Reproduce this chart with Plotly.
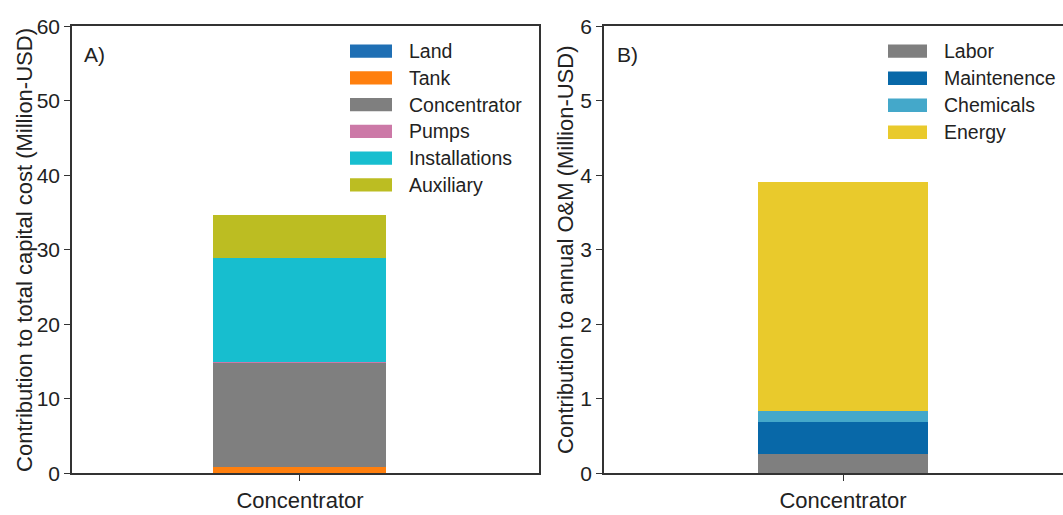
import plotly.graph_objects as go

category = ["Concentrator"]

# Panel A: capital cost components (Million-USD)
cap_names = ["Land", "Tank", "Concentrator", "Pumps", "Installations", "Auxiliary"]
cap_values = [0.05, 0.75, 14.0, 0.05, 14.0, 5.75]
cap_colors = ["#1f6fb4", "#ff7f0e", "#7f7f7f", "#cc79a7", "#17becf", "#bcbd22"]

# Panel B: annual O&M components (Million-USD)
om_names = ["Labor", "Maintenence", "Chemicals", "Energy"]
om_values = [0.25, 0.44, 0.14, 3.07]
om_colors = ["#7f7f7f", "#0868a8", "#44a8ca", "#e9ca2c"]

FONT = "Liberation Sans, Arial, sans-serif"
W, H = 1063, 515

fig = go.Figure()
for n, v, c in zip(cap_names, cap_values, cap_colors):
    fig.add_trace(go.Bar(x=[0], y=[v], name=n, marker=dict(color=c, line=dict(width=0)),
                         width=1, xaxis="x", yaxis="y", showlegend=False))
for n, v, c in zip(om_names, om_values, om_colors):
    fig.add_trace(go.Bar(x=[0], y=[v], name=n, marker=dict(color=c, line=dict(width=0)),
                         width=1, xaxis="x2", yaxis="y2", showlegend=False))

ytop = 1 - 15 / H
ybot = 1 - 483 / H
axcol = "#333333"
common_x = dict(showline=True, linecolor=axcol, linewidth=1.5, ticks="outside", ticklen=6,
                tickcolor=axcol, tickvals=[0], ticktext=category, showgrid=False, zeroline=False,
                tickfont=dict(family=FONT, size=22, color="#222"), fixedrange=True)
common_y = dict(showline=True, linecolor=axcol, linewidth=1.5, ticks="outside", ticklen=6,
                tickcolor=axcol, showgrid=False, zeroline=False,
                tickfont=dict(family=FONT, size=21, color="#222"))

fig.update_layout(
    width=W, height=H, margin=dict(l=0, r=0, t=0, b=0),
    paper_bgcolor="white", plot_bgcolor="white", barmode="stack", bargap=0,
    font=dict(family=FONT, color="#222"),
    xaxis=dict(domain=[72 / W, 539 / W], range=[-1.318, 1.382], mirror=True, anchor="y", **common_x),
    yaxis=dict(domain=[ybot, ytop], range=[0, 60], tickvals=[0, 10, 20, 30, 40, 50, 60], mirror=True,
               anchor="x", **common_y),
    # panel B: top spine via x mirror, no right spine (clipped in the reference)
    xaxis2=dict(domain=[604 / W, 1.0], range=[-1.406, 1.294], mirror=True, anchor="y2", **common_x),
    yaxis2=dict(domain=[ybot, ytop], range=[0, 6], tickvals=[0, 1, 2, 3, 4, 5, 6], mirror=False,
                anchor="x2", **common_y),
)

# y-axis titles
fig.add_annotation(text="Contribution to total capital cost (Million-USD)", xref="paper", yref="paper",
                   x=25 / W, y=1 - 249 / H, xanchor="center", yanchor="middle", textangle=-90,
                   showarrow=False, font=dict(family=FONT, size=22, color="#222"))
fig.add_annotation(text="Contribution to annual O&M (Million-USD)", xref="paper", yref="paper",
                   x=566 / W, y=1 - 249 / H, xanchor="center", yanchor="middle", textangle=-90,
                   showarrow=False, font=dict(family=FONT, size=22, color="#222"))

# panel labels
fig.add_annotation(text="A)", xref="paper", yref="paper", x=82 / W, y=1 - 45 / H, xanchor="left",
                   yanchor="middle", showarrow=False, font=dict(family=FONT, size=21, color="#222"))
fig.add_annotation(text="B)", xref="paper", yref="paper", x=615 / W, y=1 - 45 / H, xanchor="left",
                   yanchor="middle", showarrow=False, font=dict(family=FONT, size=21, color="#222"))


# legends drawn with wide swatches, like the reference
def legend(names, colors, sx0, sx1, tx, y0, dy):
    for i, (n, c) in enumerate(zip(names, colors)):
        yc = y0 + i * dy
        fig.add_shape(type="rect", xref="paper", yref="paper", x0=sx0 / W, x1=sx1 / W,
                      y0=1 - (yc - 7) / H, y1=1 - (yc + 7) / H, fillcolor=c, line=dict(width=0))
        fig.add_annotation(text=n, xref="paper", yref="paper", x=tx / W, y=1 - yc / H, xanchor="left",
                           yanchor="middle", showarrow=False, font=dict(family=FONT, size=19.5, color="#222"))


legend(cap_names, cap_colors, 350, 392, 407, 41, 28)
legend(om_names, om_colors, 888, 927, 942, 41, 28.3)

fig.write_html("out.html")
